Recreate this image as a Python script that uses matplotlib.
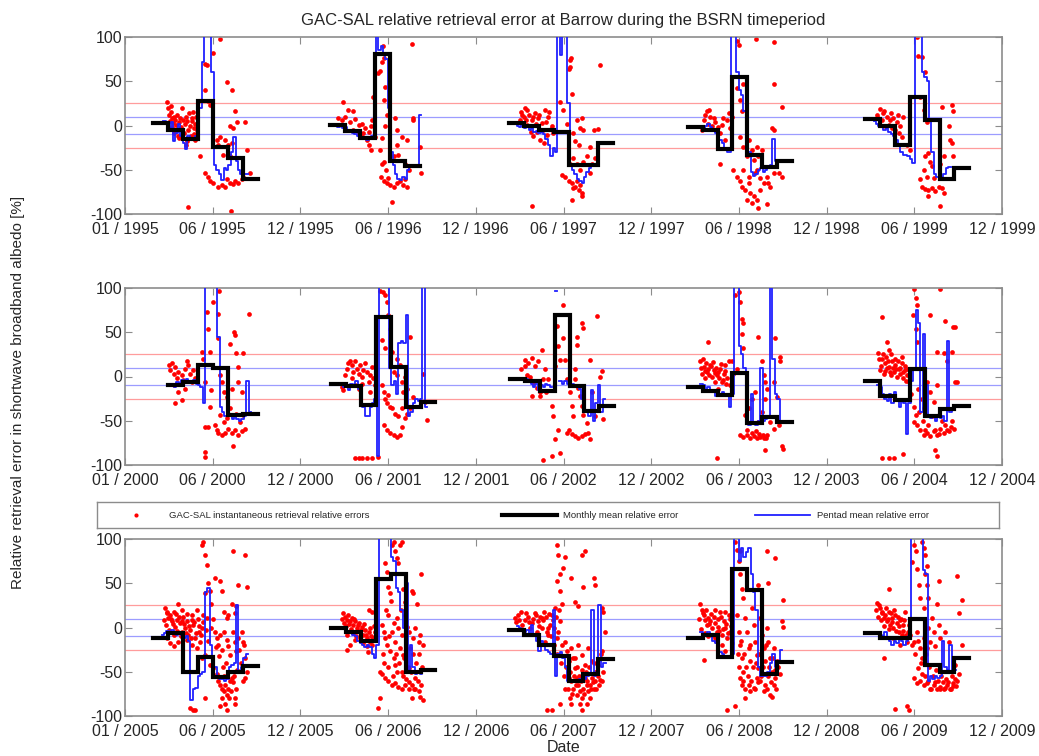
import matplotlib
matplotlib.use("Agg")
import matplotlib.pyplot as plt
import numpy as np

plt.rcParams['font.family'] = ['Liberation Sans', 'DejaVu Sans']
plt.rcParams['axes.unicode_minus'] = False

# years shown, 5 per panel
years = list(range(1995, 2010))
panel_first_year = [1995, 2000, 2005]

xtick_labels_1 = ['01 / 1995', '06 / 1995', '12 / 1995', '06 / 1996', '12 / 1996', '06 / 1997',
                  '12 / 1997', '06 / 1998', '12 / 1998', '06 / 1999', '12 / 1999']
xtick_labels_2 = ['01 / 2000', '06 / 2000', '12 / 2000', '06 / 2001', '12 / 2001', '06 / 2002',
                  '12 / 2002', '06 / 2003', '12 / 2003', '06 / 2004', '12 / 2004']
xtick_labels_3 = ['01 / 2005', '06 / 2005', '12 / 2005', '06 / 2006', '12 / 2006', '06 / 2007',
                  '12 / 2007', '06 / 2008', '12 / 2008', '06 / 2009', '12 / 2009']

# Monthly mean relative error [%], first month starts at monthly_start_day (day of year)
monthly_start_day = [59, 62, 69, 76, 80, 90, 64, 71, 76, 80, 59, 64, 69, 76, 80]
monthly_1995 = [3, -5, -15, 28, -24, -37, -61]
monthly_1996 = [1, -6, -14, 81, -40, -46]
monthly_1997 = [3, 0, -5, -7, -45, -45, -20]
monthly_1998 = [-2, -5, -26, 55, -33, -47, -40]
monthly_1999 = [7, -1, -22, 32, 6, -61, -48]
monthly_2000 = [-10, -6, 13, 10, -44, -42]
monthly_2001 = [-8, -11, -32, 67, 11, -35, -29]
monthly_2002 = [-3, -5, -16, 69, -11, -39, -33]
monthly_2003 = [-12, -16, -21, 4, -53, -46, -51]
monthly_2004 = [-5, -22, -27, 9, -45, -37, -33]
monthly_2005 = [-12, -6, -50, -33, -56, -50, -44]
monthly_2006 = [-1, -5, -15, 55, 61, -50, -48]
monthly_2007 = [-3, -9, -20, -32, -61, -53, -36]
monthly_2008 = [-12, -8, -33, 66, 42, -53, -39]
monthly_2009 = [-6, -12, -12, 10, -42, -50, -35]

# Pentad mean relative error [%] (values above 100 are off the chart)
nan = float('nan')
pentad_start_day = [80, 67, 80, 102, 98, 92, 79, 99, 102, 105, 76, 83, 85, 102, 105]
pentad_1995 = [5, 2, -3, 4, -18, -8, 2, -12, -20, -27, -12, -15, -14, -12, -10, 20, 72, 110, 110, 110,
               60, -45, -50, -55, -62, -48, -50, -45, -30, -13, -40, -50, -55, -55, -55]
pentad_1996 = [0, 1, -2, 0, -3, -2, -5, -6, -8, -10, -12, -14, -15, -14, -16, -14, -12, -14, 110, 85,
               90, 80, 75, 20, -30, -45, -55, -60, -62, -58, -60, -50, -47, -46, -45, -45, 12]
pentad_1997 = [3, 0, -2, 2, -3, -2, -5, -3, -7, -6, -8, -7, -10, -15, -22, -35, -25, -30, 110, 80,
               110, 110, 25, -45, -50, -55, -60, -63, -65, -58, -52, -48, -45, -45]
pentad_1998 = [-3, -6, 0, 2, -2, -5, -8, -12, -16, -20, -25, -30, -30, 110, 110, 60, 40, 35, 16, 0,
               -30, -52, -57, -55, -50, -48, -52, -50, -48, -45, -15, -40]
pentad_1999 = [5, 2, 0, -2, -5, -3, -7, -10, -12, -16, -22, -30, -33, -33, -35, -38, -42, 110, 110, 110,
               60, 55, 50, 5, -30, -55, -58, -58, -58, -55, -48, -47]
pentad_2000 = [-8, -10, -12, -6, -8, -4, -5, -3, -5, -6, -4, -8, -10, -12, -30, 110, 110, 110, 110, 110,
               45, -35, -40, -45, -45, -42, -48, -45, -48, -50, -48, -45, -5, -40]
pentad_2001 = [-10, -8, -12, -10, -15, -8, -12, -5, -14, -20, -35, -45, -45, -35, -30, -25, -90, 110, 110,
               110, 110, 10, -10, -5, -20, 38, 40, 38, 70, -45, -40, -30, -25, -28, -25, 110, -35]
pentad_2002 = [-2, -3, -5, -8, -12, -8, -15, -10, -12, -8, -10, -12, nan, 97, nan, -5, -8, -5, -8, -10,
               -8, -12, -10, -14, -25, -38, -40, -45, -15, -50, -30, -10, -40, -25]
pentad_2003 = [-8, -10, -15, -12, -18, -15, -22, -18, -20, -18, -22, -20, -35, -20, 110, 110, 35, 25, 10,
               -20, -55, -20, -52, -55, -50, 10, -50, -48, -45, 110, 20, -20, -25, -52]
pentad_2004 = [-10, -12, -20, -25, -28, -20, -30, -18, -25, -35, -28, -30, -65, -30, -5, 10, 75, 60, -40,
               48, -10, -45, -47, -45, -50, -45, -47, -45, -50, 40, -40, -38, -35]
pentad_2005 = [-8, -6, -4, -5, -3, -6, -8, -5, -8, -12, -10, -15, -82, -70, -68, -55, -52, -50, 40, 45,
               -20, -40, -45, -55, -58, -58, -60, -58, -45, -42, -40, 25, -50, -45, -35, -30]
pentad_2006 = [0, -2, -3, -5, -4, -8, -10, -15, -18, -20, -22, -20, -22, -30, -35, -20, 110, 110, 110, 110,
               110, 80, 75, 45, 40, 20, 0, 50, -50, -20, -45, -52, -50, -52, -48, -48]
pentad_2007 = [2, 0, -2, -5, -3, -8, 3, -8, -15, -27, -15, -20, -25, -28, -30, 20, -55, -30, -28, -35,
               -45, -60, -60, -62, -60, -60, -58, -60, -58, -55, -52, 20, -55, -50, 25, -45, -40]
pentad_2008 = [-5, -10, -8, -5, -8, -15, -18, -25, -28, -30, -33, -32, -35, -30, 110, 110, 75, 90, 80, 85,
               90, 60, 40, 20, -45, -55, -55, -55, -50, -40, -30, -45, -40, -25]
pentad_2009 = [-5, -8, -10, -5, -12, -15, -20, -15, -18, -12, -15, -20, -15, -10, 110, 110, 110, 110, 110,
               65, 60, -60, -55, -58, -55, -57, -55, -15, -45, -48, -20, -50, -48]

# Instantaneous retrieval relative errors: (day of year, error %)
dots_1995 = [(88, 26), (90, 20), (92, 12), (94, 5), (95, 15), (97, 8), (98, -2), (100, 3), (102, 10),
             (104, -6), (105, 6), (107, 1), (108, 12), (110, -12), (112, 4), (114, 8), (116, -2), (118, 20),
             (120, 6), (122, -8), (124, 2), (126, 10), (128, -18), (130, 5), (132, -5), (134, 14), (136, 0),
             (138, -12), (140, 8), (142, 15), (144, -3), (146, 2), (132, -92), (156, -35), (166, 70),
             (170, 68), (166, 40), (172, 28), (177, 23), (184, 82), (198, 98), (212, 49), (222, 40),
             (229, 16), (219, -1), (225, -3), (234, 4), (250, 4), (253, -28), (260, -54), (220, -97),
             (166, -54), (173, -58), (177, -63), (184, -65), (194, -69), (201, -67), (208, -69), (212, -61),
             (218, -65), (225, -66), (229, -63), (236, -65), (243, -61), (246, -58), (191, -16), (194, -22),
             (198, -13), (203, -33), (208, -16), (214, -22), (219, -35), (223, -20), (146, -16), (149, -5),
             (96, 22), (101, -9), (113, -14), (127, -22), (139, 5), (143, -10), (147, 10), (150, -3)]
dots_1996 = [(89, 26), (100, 17), (110, 16), (79, 8), (86, 6), (93, 10), (103, 4), (114, 7), (121, 1),
             (128, 2), (135, -3), (142, -7), (146, -1), (149, 6), (131, -9), (138, -16), (143, -22),
             (147, -28), (152, 32), (155, -13), (110, -5), (121, -9), (128, -13), (162, 59), (166, 62),
             (169, 72), (171, 90), (175, 76), (176, 44), (175, 29), (180, 12), (176, -1), (169, -14),
             (166, -28), (173, -41), (178, -50), (168, -58), (173, -63), (180, -65), (187, -67), (194, -69),
             (200, -65), (207, -63), (214, -67), (221, -69), (218, -61), (190, -86), (197, 8), (200, -22),
             (204, -33), (211, -13), (218, -43), (221, -16), (225, -50), (232, 92), (235, 8), (235, 6),
             (249, -24), (251, -54), (169, -43), (183, -59), (194, -35), (200, -5)]
dots_1997 = [(116, -91), (100, 10), (107, 18), (111, 12), (116, 6), (123, 14), (130, 8), (137, 3),
             (144, 18), (151, 10), (158, -1), (161, -9), (120, -12), (127, -7), (134, -16), (141, -20),
             (148, -11), (107, 1), (114, -7), (104, 6), (97, 12), (92, 6), (196, 66), (199, 76), (200, 36),
             (182, 17), (175, 27), (189, 2), (203, -9), (210, 6), (217, -3), (220, 8), (207, -18),
             (214, -22), (224, -5), (231, -35), (238, -24), (245, -5), (255, -4), (259, 68), (179, -56),
             (186, -58), (193, -63), (200, -65), (207, -69), (214, -73), (221, -76), (203, -71), (210, -63),
             (217, -67), (200, -84), (221, -80), (196, -43), (203, -37), (210, -43), (217, -50), (224, -41),
             (241, -43), (248, -37), (238, -54), (196, 74), (193, 64), (95, 15), (102, 20), (118, 10),
             (125, 2), (132, 12), (139, -5), (146, 4), (153, 15), (156, -4)]
dots_1998 = [(116, 16), (123, 10), (130, 8), (109, 6), (119, 2), (126, -1), (133, 4), (137, -5), (144, -9),
             (157, 6), (161, 14), (164, -3), (147, 1), (154, -16), (105, -5), (144, -43), (178, 96),
             (182, 91), (178, 42), (185, 29), (189, 16), (192, 47), (255, 47), (219, 98), (255, 94),
             (272, 21), (255, -5), (251, -3), (185, -13), (192, -24), (199, -35), (203, -16), (209, -28),
             (213, -39), (220, -24), (223, -35), (230, -28), (171, -50), (178, -58), (185, -63), (189, -69),
             (196, -73), (203, -65), (206, -76), (213, -80), (220, -84), (223, -93), (209, -88), (199, -84),
             (227, -73), (234, -65), (241, -58), (227, -59), (216, -54), (244, -65), (247, -70), (241, -89),
             (255, -54), (265, -54), (272, -58), (192, -50), (203, -58), (220, -50), (112, 12), (120, 18),
             (140, -2), (150, 8), (168, 10)]
dots_1999 = [(112, 19), (119, 16), (105, 12), (126, 10), (132, 6), (139, 8), (146, 4), (129, 1), (136, -3),
             (143, -5), (150, -9), (157, -13), (160, 10), (115, 6), (122, -1), (153, -1), (167, -22),
             (174, -28), (188, 100), (191, 79), (198, 77), (205, 61), (195, 32), (202, 17), (209, 4),
             (205, -35), (212, -31), (216, -41), (202, -50), (209, -58), (219, -46), (223, -59), (195, -61),
             (198, -69), (205, -72), (212, -73), (219, -71), (226, -74), (233, -69), (240, -71), (244, -76),
             (237, -91), (212, -80), (254, -1), (257, -16), (261, -20), (264, -35), (240, 21), (261, 23),
             (264, 16), (244, -35), (237, -43), (108, 8), (118, 14), (133, 14), (141, 0), (148, 12)]
dots_2000 = [(92, 13), (94, 7), (97, 15), (101, 3), (104, 11), (108, -2), (111, 5), (114, -8), (118, 2),
             (121, -4), (125, 9), (128, 17), (132, 13), (135, 3), (139, -6), (142, 7), (146, -2), (104, -30),
             (119, -27), (125, -14), (111, -17), (101, -10), (160, 28), (163, 20), (166, -6), (170, 73),
             (173, 54), (177, 28), (180, -15), (184, 84), (194, 71), (196, 97), (194, 43), (198, 2),
             (201, -6), (205, -17), (212, -23), (219, 37), (222, -14), (227, 50), (229, 47), (232, 26),
             (236, 11), (246, 26), (257, 71), (236, -6), (243, -17), (166, -57), (173, -57), (177, -34),
             (166, -85), (166, -91), (187, -55), (191, -61), (194, -64), (201, -66), (208, -64), (215, -59),
             (222, -64), (229, -61), (236, -66), (243, -62), (250, -59), (225, -79), (198, -44), (205, -51),
             (212, -47), (219, -36), (232, -42), (239, -51), (246, -44)]
dots_2001 = [(86, -12), (93, 2), (96, 9), (100, 15), (103, 18), (107, 13), (110, 5), (114, 17), (117, 9),
             (121, 3), (124, 13), (128, 0), (131, 7), (135, 15), (138, 5), (142, -6), (145, 2), (148, 11),
             (152, -2), (107, -2), (114, -10), (121, -14), (128, -8), (89, -15), (145, -17), (155, -10),
             (166, 97), (171, 95), (176, 92), (180, 84), (183, 69), (187, 54), (169, 41), (176, 32),
             (190, 28), (194, 5), (200, 20), (200, 2), (207, 13), (211, -6), (214, -17), (218, 0),
             (221, -14), (228, 45), (235, -23), (256, 3), (263, -49), (259, -29), (169, -10), (173, -17),
             (176, -25), (180, -30), (183, -21), (187, -34), (190, -36), (197, -42), (204, -45), (211, -36),
             (173, -55), (180, -61), (187, -64), (194, -66), (200, -68), (207, -66), (211, -57), (218, -47),
             (221, -42), (228, -36), (128, -92), (138, -92), (148, -92), (121, -92), (114, -92), (162, -91)]
dots_2002 = [(95, 8), (102, 19), (109, 15), (116, 21), (123, 12), (130, 17), (137, 30), (106, 2), (113, 0),
             (120, -7), (127, -13), (134, -17), (140, -3), (144, 8), (102, 12), (116, -22), (134, -22),
             (147, -18), (151, -3), (168, 57), (172, 34), (175, 19), (165, 12), (158, -33), (161, -45),
             (165, -71), (172, -60), (181, 81), (182, 44), (186, 19), (189, -64), (193, -60), (200, -65),
             (207, -67), (213, -69), (220, -67), (227, -65), (234, -64), (238, -71), (220, 61), (224, 55),
             (210, 36), (210, 45), (252, 68), (207, 8), (207, -3), (213, -13), (217, -22), (220, -33),
             (224, -43), (231, -52), (238, 19), (241, -18), (248, -45), (259, 0), (262, 6), (265, -48),
             (189, -3), (196, -18), (200, -33), (175, -86), (158, -90), (140, -94), (203, -45)]
dots_2003 = [(119, 39), (102, 17), (109, 11), (116, 5), (123, 13), (130, 7), (137, 2), (144, 9), (151, 3),
             (157, -2), (105, 3), (112, -2), (126, 0), (133, -6), (140, -14), (147, -6), (154, 13), (161, 17),
             (164, -10), (168, 18), (171, 3), (178, 9), (175, 92), (182, 95), (185, 84), (189, 65), (191, 60),
             (189, 48), (192, 32), (223, 45), (230, 17), (234, 2), (237, -6), (241, -14), (237, -25),
             (258, 43), (268, 22), (268, 17), (255, -6), (261, -23), (185, -66), (192, -68), (199, -66),
             (206, -69), (213, -67), (220, -70), (227, -68), (234, -70), (241, -66), (237, -83), (272, -79),
             (275, -82), (137, -92), (196, -44), (203, -36), (210, -25), (216, -17), (223, -51), (230, -40),
             (248, -51), (255, -59), (265, -55), (104, 10), (108, 20), (111, 6), (114, 15), (118, 8),
             (121, 2), (125, 12), (128, 16), (132, 4), (135, 10), (139, 5), (142, -2), (146, 14), (149, -4),
             (153, 6), (156, -8), (200, -60), (210, -64), (218, -62), (225, -65), (232, -66), (239, -70)]
dots_2004 = [(115, 67), (126, 39), (129, 30), (108, 26), (115, 20), (122, 15), (129, 11), (136, 17),
             (143, 13), (150, 9), (157, 15), (164, 7), (167, 2), (112, 7), (119, 3), (126, 10), (133, 2),
             (140, 5), (147, 0), (153, 3), (160, -2), (171, -6), (115, -92), (129, -92), (140, -92),
             (160, -88), (181, 99), (185, 89), (188, 81), (180, 70), (185, 54), (188, 39), (216, 69),
             (237, 99), (247, 63), (264, 56), (268, 56), (230, 28), (244, 26), (261, 28), (251, 17),
             (268, -6), (271, -6), (191, -14), (198, -25), (202, -36), (209, -6), (216, -17), (223, -29),
             (230, -10), (233, -44), (188, -55), (195, -61), (202, -66), (209, -64), (216, -67), (223, -62),
             (230, -66), (237, -59), (244, -64), (251, -61), (258, -57), (265, -59), (226, -83), (230, -90),
             (181, -51), (185, -44), (110, 20), (114, 12), (117, 25), (121, 6), (124, 22), (128, 18),
             (131, 5), (135, 25), (138, 10), (142, 20), (145, 8), (149, 18), (152, 10), (156, 22), (159, 5),
             (163, 12), (166, -5), (170, 8), (176, -20), (182, -35), (193, -40), (200, -50), (205, -60),
             (212, -55), (219, -45), (226, -60), (233, -65), (240, -50), (247, -55), (254, -62), (261, -50)]
dots_2005 = [(83, 22), (87, 16), (90, 11), (94, 14), (97, 7), (101, 18), (104, 1), (108, 9), (111, 26),
             (114, 5), (118, -5), (121, 12), (125, -1), (128, 7), (132, -8), (135, -3), (139, 9), (142, 3),
             (146, -12), (149, 20), (153, -5), (156, -16), (160, -1), (163, 14), (170, 11), (87, -12),
             (94, -18), (101, -21), (111, -16), (118, 7), (128, -14), (139, -20), (149, -23), (160, -35),
             (166, -31), (160, 93), (163, 97), (166, 82), (170, 71), (173, 50), (166, 39), (177, 41),
             (180, 27), (187, 56), (198, 52), (201, 41), (205, 18), (212, 11), (215, 14), (225, 86),
             (250, 82), (253, 46), (236, 48), (222, 27), (229, 16), (232, 24), (180, -1), (187, -5),
             (191, -12), (194, -20), (198, -8), (201, -25), (205, -5), (212, -14), (215, -21), (219, -31),
             (225, -5), (229, -16), (232, -27), (236, -12), (243, -5), (246, -16), (250, -35), (184, -46),
             (191, -53), (194, -61), (198, -65), (201, -69), (205, -72), (208, -65), (212, -76), (215, -69),
             (219, -61), (222, -57), (201, -80), (208, -87), (212, -93), (198, -89), (229, -80), (229, -87),
             (166, -80), (135, -91), (146, -93), (142, -93), (250, -57), (253, -50), (177, -42),
             (82, 8), (85, 3), (88, 18), (92, -3), (95, 10), (99, 4), (103, -8), (106, 15), (109, -4),
             (113, 12), (116, -10), (119, 20), (123, 4), (126, -6), (130, 15), (133, 2), (137, -12), (140, 14),
             (144, 6), (147, -6), (151, 10), (155, 2), (158, -9), (162, 6), (168, -3), (172, -15), (183, 10),
             (189, -22), (196, -32), (203, -45), (207, -55), (210, -40), (214, -50), (217, -80), (220, -72),
             (224, -62), (227, -55), (230, -70), (234, -48), (238, -25), (242, -40), (245, -60), (248, -20)]
dots_2006 = [(89, 16), (93, 12), (96, 9), (100, 14), (103, 7), (107, 11), (110, 3), (114, 7), (117, -1),
             (121, 5), (124, -5), (128, 1), (131, -8), (135, -3), (138, -12), (142, -5), (145, -16), (148, 18),
             (152, -12), (155, -5), (96, -25), (103, -20), (114, -14), (128, -16), (138, -21), (142, 20),
             (162, -91), (166, -80), (176, 73), (180, 63), (183, 46), (187, 39), (190, 93), (194, 97),
             (197, 86), (200, 78), (204, 73), (207, 93), (211, 97), (214, 44), (218, 29), (232, 41),
             (235, 39), (242, 26), (252, 60), (256, -20), (169, 3), (173, -5), (176, -12), (180, -20),
             (183, 14), (187, -27), (190, -5), (194, -35), (197, -16), (200, 11), (204, -1), (207, -23),
             (211, -8), (214, -31), (218, 14), (221, 1), (225, -5), (228, -23), (235, -12), (239, -1),
             (246, -16), (249, -8), (166, -50), (169, -53), (176, -57), (183, -61), (190, -65), (197, -63),
             (204, -67), (211, -69), (218, -65), (225, -69), (232, -65), (239, -70), (246, -72), (249, -78),
             (256, -82), (232, -80), (197, -42), (211, -50), (225, -46), (239, -57),
             (86, 10), (90, 5), (95, 2), (98, -8), (102, 4), (105, -2), (109, -6), (112, 10), (116, -10),
             (119, 3), (123, -12), (126, -3), (130, -18), (133, 4), (137, -8), (140, -28), (144, -1),
             (147, -10), (150, -20), (153, 2), (171, -30), (175, -40), (178, 20), (182, -45), (185, -10),
             (188, 30), (192, -55), (195, 5), (199, -30), (202, -50), (206, -40), (209, 20), (213, -55),
             (216, -35), (220, -58), (223, -45), (227, -62), (230, -50), (234, -30), (237, -70), (241, -40),
             (244, -60), (247, -30), (250, -65), (253, -45)]
dots_2007 = [(82, 11), (88, 14), (95, 18), (102, 9), (109, 12), (116, 5), (123, 16), (130, 7), (137, -1),
             (134, 12), (141, 18), (127, -5), (113, -1), (137, 11), (148, -5), (155, 3), (158, 14), (165, 22),
             (144, -16), (151, -8), (162, -1), (168, -12), (172, -5), (175, 7), (168, 93), (172, 82),
             (168, 52), (175, 41), (179, 27), (186, 80), (182, 67), (175, 60), (199, 56), (224, 46), (221, 82),
             (228, 86), (245, 56), (248, 48), (206, 29), (213, 24), (269, -5), (265, 18), (262, 22),
             (186, -16), (189, -27), (193, -38), (196, -50), (199, -23), (203, -35), (206, -46), (210, -57),
             (213, -65), (217, -72), (220, -80), (224, -69), (227, -57), (231, -65), (234, -72), (238, -65),
             (241, -57), (245, -69), (248, -61), (252, -53), (258, -59), (265, -50), (203, -69), (210, -76),
             (217, -87), (220, -93), (196, -80), (199, -87), (206, -35), (213, -20), (220, -31), (227, -42),
             (234, -23), (241, -38), (248, -50), (255, -42), (262, -27), (148, -93), (158, -93), (175, -87),
             (231, -87), (238, -80), (186, -69), (193, -57),
             (84, 6), (90, 9), (97, 3), (104, 16), (111, 6), (118, 10), (125, 14), (132, 2), (139, 8),
             (146, 12), (150, 0), (153, 15), (157, -10), (160, 8), (163, -20), (166, 12), (170, -30),
             (173, 20), (177, -40), (180, -20), (184, -55), (188, -45), (191, -70), (194, -35), (198, -60),
             (201, -75), (204, -55), (208, -65), (211, -45), (215, -55), (218, -60), (222, -48), (225, -75),
             (229, -50), (232, -60), (236, -45), (240, -70), (243, -62), (247, -40), (250, -70), (254, -55),
             (257, -65), (260, -30), (263, -60)]
dots_2008 = [(102, 26), (105, 20), (109, 14), (112, 9), (116, 3), (119, 11), (123, 7), (126, -1), (130, 12),
             (133, 5), (137, -5), (140, 1), (144, 18), (147, -8), (151, 7), (154, -1), (157, -12), (161, 14),
             (164, -5), (168, -18), (109, -37), (133, -12), (147, -20), (154, -27), (175, 97), (178, 88),
             (182, 75), (185, 60), (185, 86), (189, 44), (192, 33), (241, 86), (258, 78), (223, 48),
             (244, 50), (275, 31), (272, 7), (275, 1), (178, 14), (182, -5), (185, -20), (189, -35),
             (192, -50), (196, 11), (199, -5), (203, -23), (206, -38), (209, 22), (213, 3), (216, -16),
             (220, -31), (223, -46), (227, 11), (230, -8), (234, -23), (237, -38), (241, -1), (244, -16),
             (248, -35), (251, -50), (255, -23), (262, -38), (185, -57), (189, -65), (196, -70), (203, -65),
             (206, -72), (213, -68), (220, -57), (227, -61), (234, -72), (241, -69), (248, -76), (255, -65),
             (258, -57), (268, -53), (157, -93), (175, -89), (196, -80), (251, -78),
             (100, 10), (104, -2), (107, 16), (111, -6), (114, 20), (118, -10), (121, 4), (125, 15),
             (128, -8), (132, 20), (135, -15), (139, 10), (142, -4), (146, 12), (149, -2), (153, 18),
             (156, 4), (160, -6), (163, 10), (166, 2), (180, -30), (183, -45), (187, -15), (190, -60),
             (194, -30), (198, -45), (201, -55), (205, -20), (208, -60), (211, -45), (215, -70), (218, -40),
             (222, -62), (225, -30), (229, -55), (232, -45), (236, -65), (239, -20), (243, -55), (246, -45),
             (250, -62), (253, -35), (257, -48), (260, -70), (264, -45)]
dots_2009 = [(105, 28), (112, 22), (115, 16), (119, 11), (122, 14), (126, 7), (129, 18), (132, 3), (136, 11),
             (139, -1), (143, 14), (146, 5), (150, -5), (153, 9), (157, -8), (160, 3), (164, 18), (129, 44),
             (119, -35), (139, -12), (153, -20), (167, -16), (143, -92), (167, -89), (171, -93), (178, 74),
             (181, 93), (185, 86), (188, 66), (192, 48), (195, 33), (198, 97), (202, 90), (205, 82), (209, 70),
             (205, 60), (209, 48), (212, 33), (202, 22), (230, 26), (233, 52), (271, 58), (281, 31),
             (275, 16), (171, 3), (174, -8), (181, -16), (188, -5), (195, -23), (198, -35), (202, -12),
             (209, -23), (212, -1), (216, -16), (219, 11), (223, -5), (226, -21), (233, 3), (237, -12),
             (247, -5), (254, -16), (282, -20), (181, -57), (188, -63), (195, -61), (202, -65), (209, -63),
             (216, -69), (223, -65), (230, -69), (237, -67), (244, -70), (251, -65), (258, -69), (264, -63),
             (271, -61), (275, -53), (268, -42), (191, -46), (198, -53),
             (102, 20), (106, 12), (109, 25), (113, 8), (116, 18), (120, 2), (123, 22), (127, 10), (130, -2),
             (134, 16), (137, 6), (141, 20), (144, -4), (148, 12), (151, 2), (155, 10), (158, -4), (162, 8),
             (165, -8), (169, -5), (177, -20), (184, -30), (190, -15), (197, -40), (204, -55), (207, -30),
             (211, -60), (214, -45), (218, -70), (221, -55), (225, -62), (228, -48), (232, -60), (235, -70),
             (239, -55), (242, -62), (246, -68), (249, -58), (253, -62), (256, -70), (260, -55), (263, -66),
             (267, -58), (270, -66)]

monthly_by_year = [monthly_1995, monthly_1996, monthly_1997, monthly_1998, monthly_1999,
                   monthly_2000, monthly_2001, monthly_2002, monthly_2003, monthly_2004,
                   monthly_2005, monthly_2006, monthly_2007, monthly_2008, monthly_2009]
pentad_by_year = [pentad_1995, pentad_1996, pentad_1997, pentad_1998, pentad_1999,
                  pentad_2000, pentad_2001, pentad_2002, pentad_2003, pentad_2004,
                  pentad_2005, pentad_2006, pentad_2007, pentad_2008, pentad_2009]
dots_by_year = [dots_1995, dots_1996, dots_1997, dots_1998, dots_1999,
                dots_2000, dots_2001, dots_2002, dots_2003, dots_2004,
                dots_2005, dots_2006, dots_2007, dots_2008, dots_2009]
xtick_labels = [xtick_labels_1, xtick_labels_2, xtick_labels_3]

W, H = 1039, 756
fig = plt.figure(figsize=(W / 100, H / 100), dpi=100)
frame_grey = '#8c8c8c'
text_col = '#262626'

panel_tops = [37, 288, 539]
ax_left, ax_right, ax_h = 125, 1002, 177

for p in range(3):
    top = panel_tops[p]
    ax = fig.add_axes([ax_left / W, 1 - (top + ax_h) / H, (ax_right - ax_left) / W, ax_h / H])
    y0 = panel_first_year[p]

    ax.axhline(25, color='#ff9c9c', lw=0.9, zorder=1)
    ax.axhline(-25, color='#ff9c9c', lw=0.9, zorder=1)
    ax.axhline(10, color='#9c9cff', lw=0.9, zorder=1)
    ax.axhline(-10, color='#9c9cff', lw=0.9, zorder=1)

    for k in range(5):
        i = years.index(y0 + k)
        yr = years[i]

        d = np.array(dots_by_year[i], dtype=float)
        ax.plot(yr + d[:, 0] / 365, d[:, 1], 'o', color='#ff0000', ms=3.4, mew=0, zorder=2)

        pv = pentad_by_year[i]
        px = yr + (pentad_start_day[i] + 5 * np.arange(len(pv) + 1)) / 365
        ax.step(px, pv + [pv[-1]], where='post', color='#2020ff', lw=1.3, zorder=3)

        mv = monthly_by_year[i]
        mx = yr + (monthly_start_day[i] + 31 * np.arange(len(mv) + 1)) / 365
        ax.step(mx, mv + [mv[-1]], where='post', color='black', lw=3, zorder=4,
                solid_joinstyle='miter')

    ax.set_xlim(y0, y0 + 5)
    ax.set_ylim(-100, 100)
    ax.set_xticks([y0 + 0.5 * j for j in range(11)])
    ax.set_xticklabels(xtick_labels[p])
    ax.set_yticks([-100, -50, 0, 50, 100])
    ax.tick_params(direction='in', top=True, right=True, length=5, width=0.8, color=frame_grey,
                   labelsize=11.5, labelcolor=text_col, pad=2)
    ax.tick_params(axis='x', pad=6)
    for s in ax.spines.values():
        s.set_color(frame_grey)
        s.set_linewidth(1.2)

# legend box between panel 2 and 3
lx0, lx1, ly0, ly1 = 97, 999, 502, 528
lax = fig.add_axes([lx0 / W, 1 - ly1 / H, (lx1 - lx0) / W, (ly1 - ly0) / H])
lax.set_xlim(0, lx1 - lx0)
lax.set_ylim(0, ly1 - ly0)
lax.set_xticks([])
lax.set_yticks([])
for s in lax.spines.values():
    s.set_color(frame_grey)
    s.set_linewidth(1.0)
lax.plot([39], [13], 'o', color='#ff0000', ms=3, mew=0)
lax.text(72, 13, 'GAC-SAL instantaneous retrieval relative errors', fontsize=6.8, va='center', color=text_col)
lax.plot([405, 460], [13, 13], color='black', lw=3)
lax.text(466, 13, 'Monthly mean relative error', fontsize=6.8, va='center', color=text_col)
lax.plot([658, 713], [13, 13], color='#2020ff', lw=1.3)
lax.text(720, 13, 'Pentad mean relative error', fontsize=6.8, va='center', color=text_col)

fig.text((ax_left + ax_right) / 2 / W, 1 - 20 / H,
         'GAC-SAL relative retrieval error at Barrow during the BSRN timeperiod',
         ha='center', va='center', fontsize=12, color=text_col)
fig.text(18 / W, 1 - 392 / H, 'Relative retrieval error in shortwave broadband albedo [%]',
         rotation=90, ha='center', va='center', fontsize=11, color=text_col)
fig.text((ax_left + ax_right) / 2 / W, 1 - 747.5 / H, 'Date', ha='center', va='center',
         fontsize=11.5, color=text_col)

fig.savefig('out.png', dpi=100)
